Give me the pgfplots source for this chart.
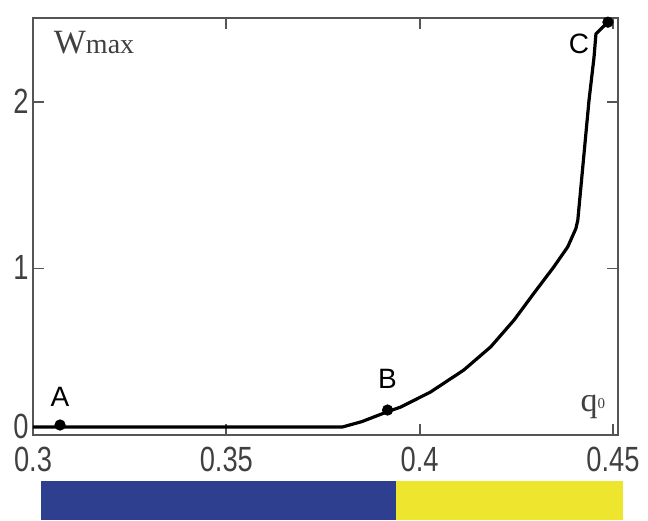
\documentclass[border=0pt]{standalone}
\usepackage{pgfplots}
\pgfplotsset{compat=1.18}
\usepackage{fontspec}
\setmainfont{Liberation Serif}
\newfontfamily\labfont{Liberation Sans}
\newfontfamily\tickfont[FakeStretch=0.78]{Liberation Sans}

\definecolor{axisgray}{HTML}{555555}
\definecolor{barblue}{HTML}{2E3F8F}
\definecolor{baryellow}{HTML}{EDE52E}

\begin{document}
\begin{tikzpicture}
  % page size: 1px of the reference = 0.5pt
  \path[use as bounding box] (-16.5pt,-42.5pt) rectangle (307.5pt,217.5pt);

  \begin{axis}[
    at={(0,0)}, anchor=south west,
    scale only axis, width=292.5pt, height=208.5pt,
    xmin=0.3, xmax=0.4513, ymin=0, ymax=2.505,
    xtick={0.3,0.35,0.4,0.45}, ytick={0,1,2},
    xticklabels={0.3,0.35,0.4,0.45},
    yticklabels={\raisebox{-2pt}[0pt][0pt]{0},1,2},
    tick align=inside, major tick length=5.5pt,
    tick style={draw=axisgray, line width=0.9pt},
    axis line style={draw=axisgray, line width=1pt},
    ticklabel style={font=\tickfont\fontsize{17.5}{18}\selectfont, text=black!75,
      inner sep=1pt},
    xticklabel style={yshift=-5pt},
    yticklabel style={xshift=-1pt, yshift=0.5pt},
    clip=false,
  ]
    \addplot[black, line width=1.6pt] coordinates {
      (0.3000,0.048) (0.3800,0.048) (0.3850,0.080) (0.3917,0.140)
      (0.3951,0.168) (0.4028,0.258) (0.4114,0.390) (0.4184,0.530)
      (0.4244,0.690) (0.4295,0.850) (0.4347,1.010) (0.4383,1.130)
      (0.4404,1.240) (0.4409,1.290) (0.4438,2.010) (0.4451,2.270)
      (0.4456,2.410) (0.4487,2.480)
    };
    \addplot[only marks, mark=*, mark size=2.6pt, black] coordinates {
      (0.3070,0.060) (0.3917,0.150) (0.4487,2.480)
    };
    \node[font=\labfont\fontsize{14}{15}\selectfont] at (axis cs:0.3070,0.23) {A};
    \node[font=\labfont\fontsize{14}{15}\selectfont] at (axis cs:0.3917,0.34) {B};
    \node[font=\labfont\fontsize{14}{15}\selectfont] at (axis cs:0.4412,2.35) {C};
    \node[anchor=west, text=black!75, inner sep=0pt] at (rel axis cs:0.035,0.94)
      {\fontsize{17}{18}\selectfont W\fontsize{14}{15}\selectfont max};
    \node[text=black!75, inner sep=0pt] at (axis cs:0.4448,0.17)
      {\fontsize{17}{18}\selectfont q\raisebox{1.5pt}{\fontsize{7.5}{8}\selectfont 0}};
  \end{axis}

  \begin{axis}[
    at={(0,-42.5pt)}, anchor=south west,
    scale only axis, width=292.5pt, height=19.5pt,
    xmin=0.3, xmax=0.4513, ymin=0, ymax=1,
    hide axis, clip=false,
  ]
    \addplot[fill=barblue, draw=none] coordinates {
      (0.3021,0) (0.3938,0) (0.3938,1) (0.3021,1)
    } -- cycle;
    \addplot[fill=baryellow, draw=none] coordinates {
      (0.3938,0) (0.4526,0) (0.4526,1) (0.3938,1)
    } -- cycle;
  \end{axis}
\end{tikzpicture}
\end{document}
